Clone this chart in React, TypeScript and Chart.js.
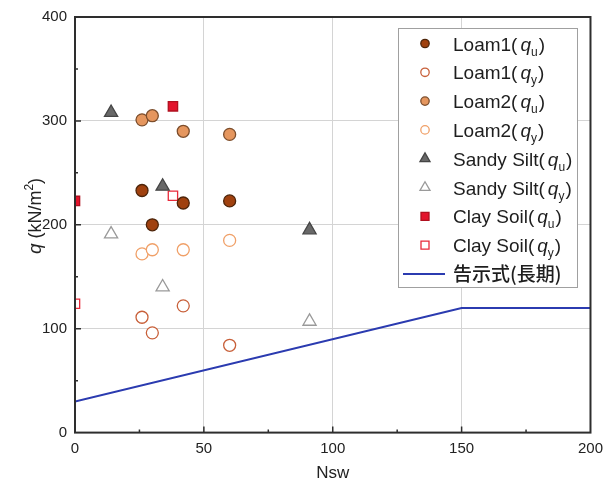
import React, { useEffect, useRef } from 'react';
import { Chart, registerables } from 'chart.js';

Chart.register(...registerables);

// ---- Data ----
const loam1Nsw = [26, 30, 42, 60];
const loam1Qu = [233, 200, 221, 223];
const loam1Qy = [111, 96, 122, 84];
const loam2Nsw = [26, 30, 42, 60];
const loam2Qu = [301, 305, 290, 287];
const loam2Qy = [172, 176, 176, 185];
const sandyNsw = [14, 34, 91];
const sandyQu = [308, 237, 195];
const sandyQy = [191, 140, 107];
const clayNsw = [0, 38];
const clayQu = [223, 314];
const clayQy = [124, 228];
const standardNsw = [0, 150, 200];
const standardQ = [30, 120, 120];

const xTickValues = [0, 50, 100, 150, 200];
const yTickValues = [0, 100, 200, 300, 400];
const xTitle = 'Nsw';
const yTitleParts = ['q', ' (kN/m', '2', ')'];

type Series = {
  base: string;
  sub: string;
  xs: number[];
  ys: number[];
  shape: 'circle' | 'triangle' | 'rect' | 'line';
  fill: string;
  stroke: string;
};

const series: Series[] = [
  { base: 'Loam1(', sub: 'u', xs: loam1Nsw, ys: loam1Qu, shape: 'circle', fill: '#a0410f', stroke: '#4e250a' },
  { base: 'Loam1(', sub: 'y', xs: loam1Nsw, ys: loam1Qy, shape: 'circle', fill: '#ffffff', stroke: '#c8603a' },
  { base: 'Loam2(', sub: 'u', xs: loam2Nsw, ys: loam2Qu, shape: 'circle', fill: '#e5965e', stroke: '#7d4e2c' },
  { base: 'Loam2(', sub: 'y', xs: loam2Nsw, ys: loam2Qy, shape: 'circle', fill: '#ffffff', stroke: '#f0a068' },
  { base: 'Sandy Silt(', sub: 'u', xs: sandyNsw, ys: sandyQu, shape: 'triangle', fill: '#686868', stroke: '#454545' },
  { base: 'Sandy Silt(', sub: 'y', xs: sandyNsw, ys: sandyQy, shape: 'triangle', fill: '#ffffff', stroke: '#9a9a9a' },
  { base: 'Clay Soil(', sub: 'u', xs: clayNsw, ys: clayQu, shape: 'rect', fill: '#e3142c', stroke: '#b0101f' },
  { base: 'Clay Soil(', sub: 'y', xs: clayNsw, ys: clayQy, shape: 'rect', fill: '#ffffff', stroke: '#e82a3a' },
  { base: '告示式(長期)', sub: '', xs: standardNsw, ys: standardQ, shape: 'line', fill: '#2b3bb0', stroke: '#2b3bb0' },
];

const LATIN = '"Liberation Sans", Arial, sans-serif';
const CJK = '"Noto Sans CJK JP", "Liberation Sans", sans-serif';

type Part = { text: string; font: string; dy?: number; gap?: number };

function richWidth(ctx: CanvasRenderingContext2D, parts: Part[]) {
  let w = 0;
  for (const p of parts) {
    ctx.font = p.font;
    w += ctx.measureText(p.text).width + (p.gap || 0);
  }
  return w;
}

function drawRich(ctx: CanvasRenderingContext2D, x: number, y: number, parts: Part[]) {
  let cx = x;
  for (const p of parts) {
    ctx.font = p.font;
    cx += p.gap || 0;
    ctx.fillText(p.text, cx, y + (p.dy || 0));
    cx += ctx.measureText(p.text).width;
  }
}

function drawMarker(ctx: CanvasRenderingContext2D, s: Series, x: number, y: number) {
  ctx.save();
  ctx.fillStyle = s.fill;
  ctx.strokeStyle = s.stroke;
  ctx.lineWidth = 1.3;
  ctx.beginPath();
  if (s.shape === 'circle') {
    ctx.arc(x, y, 4.2, 0, Math.PI * 2);
    ctx.fill();
    ctx.stroke();
  } else if (s.shape === 'triangle') {
    const r = 5.8;
    ctx.moveTo(x, y - r);
    ctx.lineTo(x + r * 0.866, y + r * 0.5);
    ctx.lineTo(x - r * 0.866, y + r * 0.5);
    ctx.closePath();
    ctx.fill();
    ctx.stroke();
  } else if (s.shape === 'rect') {
    ctx.rect(x - 4, y - 4, 8, 8);
    ctx.fill();
    ctx.stroke();
  } else {
    ctx.lineWidth = 2;
    ctx.moveTo(x - 22, y);
    ctx.lineTo(x + 20, y);
    ctx.stroke();
  }
  ctx.restore();
}

const decorPlugin = {
  id: 'decor',
  afterDatasetsDraw(chart: any) {
    const { ctx, chartArea } = chart;
    const xs = chart.scales.x;
    const ys = chart.scales.y;
    ctx.save();
    ctx.strokeStyle = '#2e2e2e';
    ctx.lineWidth = 1.5;
    ctx.beginPath();
    for (let v = 25; v < 200; v += 25) {
      const px = xs.getPixelForValue(v);
      const len = v % 50 === 0 ? 6 : 3;
      ctx.moveTo(px, chartArea.bottom);
      ctx.lineTo(px, chartArea.bottom - len);
    }
    for (let v = 50; v < 400; v += 50) {
      const py = ys.getPixelForValue(v);
      const len = v % 100 === 0 ? 6 : 3;
      ctx.moveTo(chartArea.left, py);
      ctx.lineTo(chartArea.left + len, py);
    }
    ctx.stroke();
    ctx.lineWidth = 2;
    ctx.strokeRect(chartArea.left, chartArea.top, chartArea.right - chartArea.left, chartArea.bottom - chartArea.top);
    ctx.restore();
  },
  afterDraw(chart: any) {
    const { ctx, chartArea } = chart;
    ctx.save();
    ctx.fillStyle = '#222';
    ctx.textBaseline = 'alphabetic';
    ctx.font = `17px ${LATIN}`;
    ctx.textAlign = 'center';
    ctx.fillText(xTitle, (chartArea.left + chartArea.right) / 2, 478);
    ctx.textAlign = 'left';
    const yParts: Part[] = [
      { text: yTitleParts[0], font: `italic 19px ${LATIN}` },
      { text: yTitleParts[1], font: `18px ${LATIN}` },
      { text: yTitleParts[2], font: `12px ${LATIN}`, dy: -8 },
      { text: yTitleParts[3], font: `18px ${LATIN}` },
    ];
    ctx.save();
    ctx.translate(41, 216);
    ctx.rotate(-Math.PI / 2);
    const tw = richWidth(ctx, yParts);
    drawRich(ctx, -tw / 2, 0, yParts);
    ctx.restore();

    const bx = 398.5, by = 28.5, bw = 179, bh = 259;
    ctx.fillStyle = '#ffffff';
    ctx.fillRect(bx, by, bw, bh);
    ctx.strokeStyle = '#a0a0a0';
    ctx.lineWidth = 1;
    ctx.strokeRect(bx, by, bw, bh);
    ctx.fillStyle = '#1e1e1e';
    series.forEach((s, i) => {
      const cy = 43.5 + i * 28.8;
      drawMarker(ctx, s, 425, cy);
      const baseY = cy + 7;
      if (s.shape === 'line') {
        drawRich(ctx, 453, baseY, [{ text: s.base, font: `500 19px ${CJK}` }]);
      } else {
        drawRich(ctx, 453, baseY, [
          { text: s.base, font: `19px ${LATIN}` },
          { text: 'q', font: `italic 19px ${LATIN}`, gap: 3 },
          { text: s.sub, font: `12px ${LATIN}`, dy: 5 },
          { text: ')', font: `19px ${LATIN}`, gap: 1 },
        ]);
      }
    });
    ctx.restore();
  },
};

export default function App() {
  const ref = useRef<HTMLCanvasElement | null>(null);
  useEffect(() => {
    if (!ref.current) return;
    const datasets: any[] = series.map((s) => {
      const pts = s.xs.map((x, i) => ({ x, y: s.ys[i] }));
      if (s.shape === 'line') {
        return {
          label: s.base,
          data: pts,
          showLine: true,
          borderColor: s.stroke,
          borderWidth: 2,
          pointRadius: 0,
          fill: false,
          clip: 0,
        };
      }
      const radius = s.shape === 'circle' ? 6 : s.shape === 'triangle' ? 7.6 : 6.6;
      return {
        label: s.base + 'q' + s.sub + ')',
        data: pts,
        showLine: false,
        pointStyle: s.shape,
        pointRadius: radius,
        pointHoverRadius: radius,
        backgroundColor: s.fill,
        borderColor: s.stroke,
        pointBorderWidth: 1.3,
        clip: 0,
      };
    });
    const chart = new Chart(ref.current, {
      type: 'scatter',
      data: { datasets },
      plugins: [decorPlugin],
      options: {
        animation: false,
        responsive: false,
        devicePixelRatio: 1,
        layout: { padding: { top: 16, right: 19, left: 0, bottom: 0 } },
        plugins: { legend: { display: false }, tooltip: { enabled: false } },
        scales: {
          x: {
            type: 'linear',
            min: 0,
            max: 200,
            afterFit: (s: any) => { s.height = 53.4; },
            afterBuildTicks: (s: any) => { s.ticks = xTickValues.map((v) => ({ value: v })); },
            ticks: { color: '#222', font: { family: LATIN, size: 15 }, padding: 7 },
            grid: { color: '#d4d4d4', lineWidth: 1, drawTicks: false },
            border: { display: false },
          },
          y: {
            type: 'linear',
            min: 0,
            max: 400,
            afterFit: (s: any) => { s.width = 75; },
            afterBuildTicks: (s: any) => { s.ticks = yTickValues.map((v) => ({ value: v })); },
            ticks: { color: '#222', font: { family: LATIN, size: 15 }, padding: 8 },
            grid: { color: '#d4d4d4', lineWidth: 1, drawTicks: false },
            border: { display: false },
          },
        },
      },
    } as any);
    return () => chart.destroy();
  }, []);
  return (
    <div style={{ position: 'absolute', left: 0, top: 0, width: 610, height: 486, background: '#fff' }}>
      <canvas ref={ref} width={610} height={486} />
    </div>
  );
}
